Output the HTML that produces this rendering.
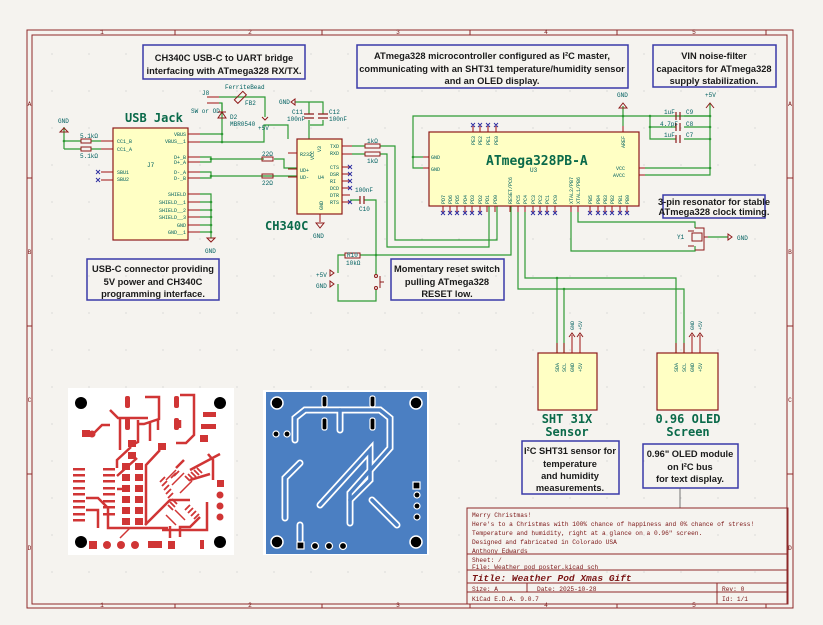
<!DOCTYPE html>
<html><head><meta charset="utf-8"><style>
html,body{margin:0;padding:0;background:#f5f3ef;}
svg{display:block;font-family:"Liberation Sans",sans-serif;}
.w{stroke:#2f9a35;stroke-width:1.2;fill:none}
.fr{stroke:#8e2a2a;fill:none}
.box{stroke:#3a3aa8;stroke-width:1.5;fill:none}
.note{font-family:"Liberation Sans",sans-serif;font-weight:bold;font-size:9.3px;fill:#1a1a1a;text-anchor:middle}
.comp{fill:#ffffc4;stroke:#8e1a1a;stroke-width:1.2}
.pl{font-family:"Liberation Mono",monospace;font-size:5px;fill:#006060}
.pn{font-family:"Liberation Mono",monospace;font-size:5px;fill:#a01010}
.ref{font-family:"Liberation Mono",monospace;font-size:6px;fill:#006060}
.big{font-family:"DejaVu Sans Mono",monospace;font-weight:bold;fill:#0a6a4a}
.pin{stroke:#a01010;stroke-width:1}
.x{stroke:#2a2aa0;stroke-width:0.9}
.tb{font-family:"Liberation Mono",monospace;font-size:6.2px;fill:#7a1515}
.dot{fill:#2f9a35}
</style></head><body>
<svg width="823" height="625" viewBox="0 0 823 625" xmlns="http://www.w3.org/2000/svg">
<defs>
<pattern id="g" width="37" height="37" patternUnits="userSpaceOnUse" x="14" y="16"><circle cx="1" cy="1" r="0.6" fill="#c8c8c8"/></pattern>
</defs>
<rect width="823" height="625" fill="#f5f3ef"/>
<rect x="32" y="35" width="755" height="569" fill="url(#g)"/>
<rect x="27" y="30" width="766" height="578" class="fr" stroke-width="1"/>
<rect x="32" y="35" width="755" height="569" class="fr" stroke-width="1"/>
<g class="fr" stroke-width="1">
<line x1="175" y1="30" x2="175" y2="35"/><line x1="322" y1="30" x2="322" y2="35"/><line x1="470" y1="30" x2="470" y2="35"/><line x1="617" y1="30" x2="617" y2="35"/><line x1="766" y1="30" x2="766" y2="35"/>
<line x1="175" y1="604" x2="175" y2="608"/><line x1="322" y1="604" x2="322" y2="608"/><line x1="470" y1="604" x2="470" y2="608"/><line x1="617" y1="604" x2="617" y2="608"/><line x1="766" y1="604" x2="766" y2="608"/>
<line x1="27" y1="178" x2="32" y2="178"/><line x1="27" y1="326" x2="32" y2="326"/><line x1="27" y1="474" x2="32" y2="474"/>
<line x1="787" y1="178" x2="793" y2="178"/><line x1="787" y1="326" x2="793" y2="326"/><line x1="787" y1="474" x2="793" y2="474"/>
</g>
<g class="tb" font-size="6px" text-anchor="middle">
<text x="102" y="34">1</text><text x="250" y="34">2</text><text x="398" y="34">3</text><text x="546" y="34">4</text><text x="694" y="34">5</text>
<text x="102" y="607">1</text><text x="250" y="607">2</text><text x="398" y="607">3</text><text x="546" y="607">4</text><text x="694" y="607">5</text>
<text x="29.5" y="106">A</text><text x="29.5" y="254">B</text><text x="29.5" y="402">C</text><text x="29.5" y="550">D</text>
<text x="790" y="106">A</text><text x="790" y="254">B</text><text x="790" y="402">C</text><text x="790" y="550">D</text>
</g>

<rect x="143" y="45" width="162" height="34" class="box"/>
<text class="note" x="224" y="61">CH340C USB-C to UART bridge</text>
<text class="note" x="224" y="74">interfacing with ATmega328 RX/TX.</text>
<rect x="357" y="45" width="271" height="43" class="box"/>
<text class="note" x="492" y="59">ATmega328 microcontroller configured as I²C master,</text>
<text class="note" x="492" y="72">communicating with an SHT31 temperature/humidity sensor</text>
<text class="note" x="492" y="84">and an OLED display.</text>
<rect x="653" y="45" width="123" height="42" class="box"/>
<text class="note" x="714" y="59">VIN noise-filter</text>
<text class="note" x="714" y="72">capacitors for ATmega328</text>
<text class="note" x="714" y="84">supply stabilization.</text>
<rect x="87" y="259" width="132" height="41" class="box"/>
<text class="note" x="153" y="272">USB-C connector providing</text>
<text class="note" x="153" y="285">5V power and CH340C</text>
<text class="note" x="153" y="297">programming interface.</text>
<rect x="391" y="259" width="113" height="41" class="box"/>
<text class="note" x="447" y="272">Momentary reset switch</text>
<text class="note" x="447" y="285">pulling ATmega328</text>
<text class="note" x="447" y="297">RESET low.</text>
<rect x="663" y="195" width="102" height="23" class="box" stroke-width="1.2"/>
<text class="note" x="714" y="205" font-size="6.8px">3-pin resonator for stable</text>
<text class="note" x="714" y="215" font-size="6.8px">ATmega328 clock timing.</text>
<rect x="522" y="441" width="97" height="53" class="box"/>
<text class="note" x="570" y="454">I²C SHT31 sensor for</text>
<text class="note" x="570" y="467">temperature</text>
<text class="note" x="570" y="479">and humidity</text>
<text class="note" x="570" y="491">measurements.</text>
<rect x="643" y="444" width="95" height="44" class="box"/>
<text class="note" x="690" y="457">0.96" OLED module</text>
<text class="note" x="690" y="470">on I²C bus</text>
<text class="note" x="690" y="482">for text display.</text>
<line x1="680" y1="488" x2="680" y2="508" stroke="#555" stroke-width="0.8"/>

<text class="big" x="125" y="122" font-size="12px">USB Jack</text>
<rect x="113" y="128" width="75" height="112" class="comp"/>
<text class="ref" x="147" y="167">J7</text>
<g class="pl" text-anchor="end">
<text x="186" y="136">VBUS</text><text x="186" y="143">VBUS__1</text>
<text x="186" y="159">D+_B</text><text x="186" y="164">D+_A</text><text x="186" y="174">D-_A</text><text x="186" y="180">D-_B</text>
<text x="186" y="196">SHIELD</text><text x="186" y="204">SHIELD__1</text><text x="186" y="212">SHIELD__2</text><text x="186" y="219">SHIELD__3</text><text x="186" y="227">GND</text><text x="186" y="234">GND__1</text>
</g>
<g class="pl"><text x="117" y="143">CC1_B</text><text x="117" y="151">CC1_A</text><text x="117" y="174">SBU1</text><text x="117" y="181">SBU2</text></g>
<g class="pin">
<line x1="188" y1="134" x2="200" y2="134"/><line x1="188" y1="142" x2="200" y2="142"/>
<line x1="188" y1="157" x2="200" y2="157"/><line x1="188" y1="162" x2="200" y2="162"/><line x1="188" y1="172" x2="200" y2="172"/><line x1="188" y1="178" x2="200" y2="178"/>
<line x1="188" y1="194" x2="200" y2="194"/><line x1="188" y1="202" x2="200" y2="202"/><line x1="188" y1="210" x2="200" y2="210"/><line x1="188" y1="217" x2="200" y2="217"/><line x1="188" y1="225" x2="200" y2="225"/><line x1="188" y1="232" x2="200" y2="232"/>
<line x1="101" y1="141" x2="113" y2="141"/><line x1="101" y1="149" x2="113" y2="149"/><line x1="101" y1="172" x2="113" y2="172"/><line x1="101" y1="180" x2="113" y2="180"/>
</g>
<g class="x"><path d="M96 170l4 4M100 170l-4 4M96 178l4 4M100 178l-4 4"/></g>
<g class="w">
<path d="M64 127v22M64 141h17M64 149h17M91 141h10M91 149h10"/>
<path d="M200 134h22M200 142h64v-17h24v14"/>
<path d="M222 142v-39"/>
<path d="M200 157h11v5h-11M211 159h53M200 172h11v6h-11M211 176h86M274 159h10v9h13"/>
<path d="M200 194h11v44M200 202h11M200 210h11M200 217h11M200 225h11M200 232h11"/>
</g>
<rect x="81" y="139" width="10" height="4" fill="none" stroke="#8e1a1a"/><rect x="81" y="147" width="10" height="4" fill="none" stroke="#8e1a1a"/>
<text class="ref" x="80" y="138" font-size="5.5px">5.1kΩ</text><text class="ref" x="80" y="158" font-size="5.5px">5.1kΩ</text>
<path d="M60 132l4-4 4 4z" fill="none" stroke="#8e1a1a"/><text class="ref" x="58" y="123" font-size="5.5px">GND</text>
<path d="M207 238l4 4 4-4z" fill="none" stroke="#8e1a1a"/><text class="ref" x="205" y="253" font-size="5.5px">GND</text>
<rect x="262" y="157" width="11" height="4" fill="none" stroke="#8e1a1a"/><rect x="262" y="174" width="11" height="4" fill="none" stroke="#8e1a1a"/>
<text class="ref" x="262" y="156" font-size="5.5px">22Ω</text><text class="ref" x="262" y="185" font-size="5.5px">22Ω</text>
<g class="dot"><circle cx="64" cy="141" r="1.3"/><circle cx="222" cy="134" r="1.3"/><circle cx="222" cy="142" r="1.3"/><circle cx="211" cy="159" r="1.3"/><circle cx="211" cy="176" r="1.3"/><circle cx="211" cy="202" r="1.3"/><circle cx="211" cy="210" r="1.3"/><circle cx="211" cy="217" r="1.3"/><circle cx="211" cy="225" r="1.3"/><circle cx="211" cy="232" r="1.3"/></g>

<text class="ref" x="202" y="95">J8</text><text class="ref" x="191" y="113">SW or OD</text>
<path d="M207 97h12M207 103h12" class="pin"/>
<path d="M219 97h46v20" class="w"/>
<rect x="234" y="95" width="12" height="5" fill="none" stroke="#8e1a1a" transform="rotate(-45 240 97)"/>
<text class="ref" x="225" y="89" font-size="5.5px">FerriteBead</text><text class="ref" x="245" y="105">FB2</text>
<path d="M262 117l3 3 3-3" stroke="#8e1a1a" fill="none"/><text class="ref" x="258" y="130">+5V</text>
<path d="M219 103h3v10" class="w"/>
<path d="M218 118h8l-4 -6z M218 112h8" stroke="#8e1a1a" fill="none"/>
<text class="ref" x="230" y="119">D2</text><text class="ref" x="230" y="126" font-size="5.5px">MBR0540</text>
<path d="M295 102h28v12M309 102v12M309 120v19M323 120v5h-13" class="w"/>
<path d="M291 102l4-3v6z" fill="none" stroke="#8e1a1a"/><text class="ref" x="279" y="104">GND</text>
<path d="M304 114h10M304 118h10M318 114h10M318 118h10" stroke="#8e1a1a" stroke-width="1.2"/>
<text class="ref" x="292" y="114">C11</text><text class="ref" x="287" y="121">100nF</text><text class="ref" x="329" y="114">C12</text><text class="ref" x="329" y="121">100nF</text>

<rect x="297" y="139" width="45" height="75" class="comp"/>
<text class="big" x="265" y="230" font-size="12px">CH340C</text>
<g class="pl"><text x="300" y="156">R232</text><text x="300" y="172">UD+</text><text x="300" y="179">UD-</text><text x="318" y="179">U4</text>
<text x="330" y="148">TXD</text><text x="330" y="155">RXD</text><text x="330" y="169">CTS</text><text x="330" y="176">DSR</text><text x="330" y="183">RI</text><text x="330" y="190">DCD</text><text x="330" y="197">DTR</text><text x="330" y="204">RTS</text></g>
<text class="pl" transform="translate(314,160) rotate(-90)">VCC</text><text class="pl" transform="translate(321,152) rotate(-90)">V3</text><text class="pl" transform="translate(323,210) rotate(-90)">GND</text>
<g class="pin"><path d="M342 146h10M342 154h10M342 167h8M342 174h8M342 181h8M342 188h8M342 195h8M342 202h8M288 153h9M288 169h9M288 177h9M320 214v8"/></g>
<g class="x"><path d="M348 165l4 4M352 165l-4 4M348 172l4 4M352 172l-4 4M348 179l4 4M352 179l-4 4M348 186l4 4M352 186l-4 4M348 200l4 4M352 200l-4 4"/></g>
<path d="M316 223l4 5 4-5z" fill="none" stroke="#8e1a1a"/><text class="ref" x="313" y="238" font-size="5.5px">GND</text>
<path d="M352 146h13M380 146h15v94h102v-34M352 154h13M380 154h7v93h102v-41" class="w"/>
<rect x="365" y="144" width="15" height="4" fill="none" stroke="#8e1a1a"/><rect x="365" y="152" width="15" height="4" fill="none" stroke="#8e1a1a"/>
<text class="ref" x="367" y="143">1kΩ</text><text class="ref" x="367" y="163">1kΩ</text>
<path d="M350 200h10M364 200h12v75M376 290v11h-38v-17M338 273v-18h173v-49" class="w"/>
<path d="M360 196v8M364 196v8" stroke="#8e1a1a" stroke-width="1.2"/>
<text class="ref" x="355" y="192">100nF</text><text class="ref" x="359" y="211">C10</text>
<rect x="345" y="253" width="15" height="5" fill="#f5f3ef" stroke="#8e1a1a"/><text class="ref" x="346" y="265">10kΩ</text><text class="ref" x="347" y="257" font-size="5px">R10</text>
<circle cx="376" cy="276" r="1.5" fill="none" stroke="#8e1a1a"/><circle cx="376" cy="288" r="1.5" fill="none" stroke="#8e1a1a"/><path d="M380 276v12M380 282h4" stroke="#8e1a1a"/>
<path d="M334 273l-4-3v6z M334 284l-4-3v6z" fill="none" stroke="#8e1a1a"/>
<text class="ref" x="316" y="277">+5V</text><text class="ref" x="316" y="288">GND</text>
<circle class="dot" cx="376" cy="255" r="1.3"/>

<rect x="429" y="132" width="210" height="74" class="comp"/>
<text class="big" x="486" y="165" font-size="13px">ATmega328PB-A</text>
<text class="ref" x="530" y="172">U3</text>
<g class="pl"><text x="431" y="159">GND</text><text x="431" y="171">GND</text><text x="625" y="170" text-anchor="end">VCC</text><text x="625" y="177" text-anchor="end">AVCC</text></g>
<g class="pl">
<text transform="translate(445,204) rotate(-90)">PD7</text><text transform="translate(452,204) rotate(-90)">PD6</text><text transform="translate(459,204) rotate(-90)">PD5</text><text transform="translate(467,204) rotate(-90)">PD4</text><text transform="translate(474,204) rotate(-90)">PD3</text><text transform="translate(482,204) rotate(-90)">PD2</text><text transform="translate(489,204) rotate(-90)">PD1</text><text transform="translate(497,204) rotate(-90)">PD0</text>
<text transform="translate(512,204) rotate(-90)">RESET/PC6</text><text transform="translate(520,204) rotate(-90)">PC5</text><text transform="translate(527,204) rotate(-90)">PC4</text><text transform="translate(535,204) rotate(-90)">PC3</text><text transform="translate(542,204) rotate(-90)">PC2</text><text transform="translate(549,204) rotate(-90)">PC1</text><text transform="translate(557,204) rotate(-90)">PC0</text>
<text transform="translate(573,204) rotate(-90)">XTAL2/PB7</text><text transform="translate(580,204) rotate(-90)">XTAL1/PB6</text>
<text transform="translate(592,204) rotate(-90)">PB5</text><text transform="translate(600,204) rotate(-90)">PB4</text><text transform="translate(607,204) rotate(-90)">PB3</text><text transform="translate(614,204) rotate(-90)">PB2</text><text transform="translate(622,204) rotate(-90)">PB1</text><text transform="translate(629,204) rotate(-90)">PB0</text>
<text transform="translate(475,145) rotate(-90)">PE3</text><text transform="translate(482,145) rotate(-90)">PE2</text><text transform="translate(490,145) rotate(-90)">PE1</text><text transform="translate(498,145) rotate(-90)">PE0</text><text transform="translate(625,148) rotate(-90)">AREF</text>
</g>
<g class="pin"><path d="M443 206v6M450 206v6M457 206v6M465 206v6M472 206v6M480 206v6M487 206v6M495 206v6M510 206v6M518 206v6M525 206v6M533 206v6M540 206v6M547 206v6M555 206v6M571 206v6M578 206v6M590 206v6M598 206v6M605 206v6M612 206v6M620 206v6M627 206v6M473 126v6M480 126v6M488 126v6M496 126v6M623 126v6M423 157h6M423 168h6M639 168h6M639 175h6"/></g>
<g class="x"><path d="M441 211l4 4M445 211l-4 4M448 211l4 4M452 211l-4 4M455 211l4 4M459 211l-4 4M463 211l4 4M467 211l-4 4M470 211l4 4M474 211l-4 4M478 211l4 4M482 211l-4 4M531 211l4 4M535 211l-4 4M538 211l4 4M542 211l-4 4M545 211l4 4M549 211l-4 4M553 211l4 4M557 211l-4 4M588 211l4 4M592 211l-4 4M596 211l4 4M600 211l-4 4M603 211l4 4M607 211l-4 4M610 211l4 4M614 211l-4 4M618 211l4 4M622 211l-4 4M625 211l4 4M629 211l-4 4M471 123l4 4M475 123l-4 4M478 123l4 4M482 123l-4 4M486 123l4 4M490 123l-4 4M494 123l4 4M498 123l-4 4"/></g>
<g class="w">
<path d="M423 157h-10v11h10M413 157v-41h297M623 116v10M623 116v-10M710 103v72h-65M645 168h65"/>
<path d="M650 116v23h26M650 127h26M684 116h26M684 127h26M684 139h26"/>
<path d="M571 212v39h124v-5M578 212v10h117v6"/>
<path d="M525 212v66h151v75M518 212v77h166v64M557 278v75M564 289v64"/>
</g>
<path d="M676 112v8M680 112v8M676 123v8M680 123v8M676 135v8M680 135v8" stroke="#8e1a1a" stroke-width="1.2"/>
<g class="ref" font-size="5.5px"><text x="664" y="114">1uF</text><text x="686" y="114">C9</text><text x="660" y="126">4.7pF</text><text x="686" y="126">C8</text><text x="664" y="137">1uF</text><text x="686" y="137">C7</text></g>
<path d="M619 108l4-5 4 5z M706 108l4-5 4 5" fill="none" stroke="#8e1a1a"/>
<text class="ref" x="617" y="97" font-size="5.5px">GND</text><text class="ref" x="705" y="97" font-size="5.5px">+5V</text>
<g class="dot"><circle cx="413" cy="157" r="1.3"/><circle cx="623" cy="116" r="1.3"/><circle cx="650" cy="116" r="1.3"/><circle cx="650" cy="127" r="1.3"/><circle cx="710" cy="116" r="1.3"/><circle cx="710" cy="127" r="1.3"/><circle cx="710" cy="139" r="1.3"/><circle cx="710" cy="168" r="1.3"/><circle cx="557" cy="278" r="1.3"/><circle cx="564" cy="289" r="1.3"/></g>
<rect x="692" y="233" width="10" height="8" fill="none" stroke="#8e1a1a"/>
<path d="M695 228h9v22h-9M704 237h4M688 231h6M688 246h6" stroke="#8e1a1a" fill="none"/>
<path d="M708 237h20" class="w"/><path d="M728 234l4 3-4 3z" fill="none" stroke="#8e1a1a"/>
<text class="ref" x="677" y="239">Y1</text><text class="ref" x="737" y="240">GND</text>

<rect x="538" y="353" width="59" height="57" class="comp"/>
<g class="pl"><text transform="translate(559,372) rotate(-90)">SDA</text><text transform="translate(566,372) rotate(-90)">SCL</text><text transform="translate(574,372) rotate(-90)">GND</text><text transform="translate(582,372) rotate(-90)">+5V</text>
<text transform="translate(574,330) rotate(-90)">GND</text><text transform="translate(582,330) rotate(-90)">+5V</text></g>
<g class="pin"><path d="M557 343v10M564 343v10M572 335v18M580 335v18"/></g>
<path d="M569 337l3-4 3 4M577 337l3-4 3 4" fill="none" stroke="#8e1a1a"/>
<text class="big" x="567" y="423" font-size="12px" text-anchor="middle">SHT 31X</text>
<text class="big" x="567" y="436" font-size="12px" text-anchor="middle">Sensor</text>
<rect x="657" y="353" width="61" height="57" class="comp"/>
<g class="pl"><text transform="translate(678,372) rotate(-90)">SDA</text><text transform="translate(686,372) rotate(-90)">SCL</text><text transform="translate(694,372) rotate(-90)">GND</text><text transform="translate(702,372) rotate(-90)">+5V</text>
<text transform="translate(694,330) rotate(-90)">GND</text><text transform="translate(702,330) rotate(-90)">+5V</text></g>
<g class="pin"><path d="M676 343v10M684 343v10M692 335v18M700 335v18"/></g>
<path d="M689 337l3-4 3 4M697 337l3-4 3 4" fill="none" stroke="#8e1a1a"/>
<text class="big" x="688" y="423" font-size="12px" text-anchor="middle">0.96 OLED</text>
<text class="big" x="688" y="436" font-size="12px" text-anchor="middle">Screen</text>

<rect x="68" y="388" width="166" height="167" fill="#fff"/>
<g fill="#000"><circle cx="81" cy="403" r="6"/><circle cx="220" cy="403" r="6"/><circle cx="81" cy="542" r="6"/><circle cx="220" cy="542" r="6"/></g>
<g fill="#d03535">
<rect x="82" y="430" width="8" height="7"/><circle cx="92" cy="434" r="3.5"/>
<rect x="125" y="396" width="5" height="12" rx="2"/><rect x="174" y="396" width="5" height="12" rx="2"/>
<rect x="125" y="418" width="5" height="12" rx="2"/><rect x="174" y="418" width="5" height="12" rx="2"/>
<rect x="201" y="424" width="15" height="5"/><rect x="200" y="435" width="8" height="7"/><rect x="203" y="412" width="13" height="5"/>
<rect x="158" y="443" width="8" height="7"/><rect x="128" y="440" width="8" height="7"/><rect x="128" y="452" width="8" height="7"/>
<rect x="122" y="463" width="8" height="7"/><rect x="135" y="463" width="8" height="7"/><rect x="122" y="474" width="8" height="7"/><rect x="135" y="474" width="8" height="7"/><rect x="122" y="485" width="8" height="7"/><rect x="135" y="485" width="8" height="7"/><rect x="122" y="496" width="8" height="7"/><rect x="135" y="496" width="8" height="7"/><rect x="122" y="507" width="8" height="7"/><rect x="135" y="507" width="8" height="7"/><rect x="122" y="518" width="8" height="7"/><rect x="135" y="518" width="8" height="7"/>
<rect x="73" y="468" width="12" height="2.5"/><rect x="73" y="474" width="12" height="2.5"/><rect x="73" y="480" width="12" height="2.5"/><rect x="73" y="487" width="12" height="2.5"/><rect x="73" y="493" width="12" height="2.5"/><rect x="73" y="500" width="12" height="2.5"/><rect x="73" y="506" width="12" height="2.5"/><rect x="73" y="513" width="12" height="2.5"/><rect x="73" y="519" width="12" height="2.5"/>
<rect x="103" y="468" width="12" height="2.5"/><rect x="103" y="474" width="12" height="2.5"/><rect x="103" y="480" width="12" height="2.5"/><rect x="103" y="487" width="12" height="2.5"/><rect x="103" y="493" width="12" height="2.5"/><rect x="103" y="500" width="12" height="2.5"/><rect x="103" y="506" width="12" height="2.5"/><rect x="103" y="513" width="12" height="2.5"/>
<rect x="217" y="480" width="7" height="7"/><circle cx="220" cy="495" r="3.5"/><circle cx="220" cy="506" r="3.5"/><circle cx="220" cy="517" r="3.5"/>
<rect x="89" y="541" width="8" height="8"/><circle cx="107" cy="545" r="4"/><circle cx="121" cy="545" r="4"/><circle cx="135" cy="545" r="4"/><rect x="148" y="541" width="14" height="7"/><rect x="168" y="541" width="7" height="8"/><rect x="200" y="540" width="4" height="9"/>
</g>
<g stroke="#d03535" fill="none" stroke-width="2.5">
<path d="M94 433l8-8h8M110 410l8 8h30M145 397h14v22l-15 5h-6M180 395h14v40l-8 8h-10M120 418v32M180 420v8M138 420v22l-8 4M150 421v20M158 420v10"/>
<path d="M86 498h12l10 10v20h60M86 510h12v18M117 468v-8l14-13M117 476l20-18M117 489h8M160 450l-14 15v60M184 460l-8 8M190 470l30-16M190 480l20-6M208 454l5 6v20M162 530h45v-28M145 525l25-25h20M170 538v-12M180 537v-10h10l10-10"/>
<path d="M172 485l12-12M180 493l12-12M176 470l-10 10M176 525l-10-10M185 520l-10-10M120 538l10-10h10" stroke-width="1.5"/>
</g>
<g stroke="#d03535" stroke-width="1.8">
<path d="M160 482l5-5M162 486l5-5M164 490l5-5M166 494l5-5M168 498l5-5M171 478l5-5M174 476l5-5M185 476l5 5M188 474l5 5M191 472l5 5M194 470l5 5M197 468l5 5M168 505l5 5M170 502l5 5M172 499l5 5M185 510l5-5M188 513l5-5M191 516l5-5M194 519l5-5"/>
</g>

<rect x="263" y="390" width="166" height="165" fill="#fff"/>
<rect x="266" y="392" width="161" height="162" fill="#4b7fc2"/>
<g fill="#000" stroke="#fff" stroke-width="1.5"><circle cx="277" cy="403" r="6"/><circle cx="416" cy="403" r="6"/><circle cx="277" cy="542" r="6"/><circle cx="416" cy="542" r="6"/></g>
<g stroke="#fff" stroke-width="7" fill="none" stroke-linecap="round">
<path d="M295 440v-22l10-8h75l10 8v30l-40 45v30"/><path d="M300 463l-15 15v40"/><path d="M340 410v20"/><path d="M320 505l50-55v30l-20 20"/><path d="M372 500l25 25"/><path d="M300 540v-15"/>
</g>
<g stroke="#4b7fc2" stroke-width="3.5" fill="none" stroke-linecap="round">
<path d="M295 440v-22l10-8h75l10 8v30l-40 45v30"/><path d="M300 463l-15 15v40"/><path d="M340 410v20"/><path d="M320 505l50-55v30l-20 20"/><path d="M372 500l25 25"/><path d="M300 540v-15"/>
</g>
<g fill="#000" stroke="#fff" stroke-width="1.2">
<rect x="322" y="396" width="5" height="11" rx="2"/><rect x="370" y="396" width="5" height="11" rx="2"/><rect x="322" y="418" width="5" height="12" rx="2"/><rect x="370" y="418" width="5" height="12" rx="2"/>
<circle cx="276" cy="434" r="3"/><circle cx="287" cy="434" r="3"/>
<rect x="413" y="482" width="7" height="7"/><circle cx="417" cy="495" r="3"/><circle cx="417" cy="506" r="3"/><circle cx="417" cy="517" r="3"/>
<rect x="297" y="542" width="7" height="7"/><circle cx="315" cy="546" r="3.5"/><circle cx="329" cy="546" r="3.5"/><circle cx="343" cy="546" r="3.5"/>
</g>

<g class="fr" stroke-width="1">
<rect x="467" y="508" width="321" height="96"/>
<line x1="467" y1="554" x2="788" y2="554"/><line x1="467" y1="570" x2="788" y2="570"/><line x1="467" y1="583" x2="788" y2="583"/><line x1="467" y1="592" x2="788" y2="592"/>
<line x1="527" y1="583" x2="527" y2="592"/><line x1="717" y1="583" x2="717" y2="604"/>
</g>
<g class="tb">
<text x="472" y="517">Merry Christmas!</text>
<text x="472" y="526">Here's to a Christmas with 100% chance of happiness and 0% chance of stress!</text>
<text x="472" y="535">Temperature and humidity, right at a glance on a 0.96" screen.</text>
<text x="472" y="544">Designed and fabricated in Colorado USA</text>
<text x="472" y="553">Anthony Edwards</text>
<text x="472" y="562">Sheet: /</text>
<text x="472" y="569">File: Weather pod poster.kicad_sch</text>
<text x="472" y="581" font-size="9.5px" font-weight="bold" font-style="italic">Title: Weather Pod Xmas Gift</text>
<text x="472" y="591">Size: A</text><text x="537" y="591">Date: 2025-10-28</text><text x="722" y="591">Rev: 0</text>
<text x="472" y="601">KiCad E.D.A. 9.0.7</text><text x="722" y="601">Id: 1/1</text>
</g>
</svg>
</body></html>
